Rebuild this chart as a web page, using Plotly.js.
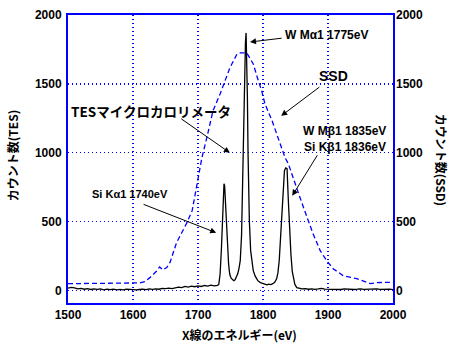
<!DOCTYPE html>
<html>
<head>
<meta charset="utf-8">
<script src="https://cdn.plot.ly/plotly-3.0.1.min.js"></script>
<style>html,body{margin:0;padding:0;background:#fff;}#chart{width:457px;height:350px;}</style>
</head>
<body>
<div id="chart"></div>
<script>
// TES microcalorimeter spectrum (black solid)
const tesEnergy = [1500,1505,1510,1515,1520,1525,1530,1535,1540,1545,1550,1555,1560,1565,1570,1575,1580,1585,1590,1595,1600,1605,1610,1615,1620,1625,1630,1635,1640,1645,1650,1655,1660,1665,1670,1675,1680,1685,1690,1695,1700,1705,1710,1715,1720,1725,1730,
  1732,1734,1736,1738,1739,1740,1741,1742,1743,1744,1745,1746,1747,1748,1749,1751,1753,1755,1757,1759,1761,1763,1765,1767,1768,1769,1770,1771,1772,1773,1774,1775,1776,1777,1778,1779,1781,1783,1785,1788,1792,1796,1800,1803,1806,1809,1812,1815,1818,1821,1823,1825,1827,1829,1831,1833,1835,1837,1839,1841,1843,1845,1847,1849,1852,1856,1860,
  1865,1870,1875,1880,1885,1890,1895,1900,1905,1910,1915,1920,1925,1930,1935,1940,1945,1950,1955,1960,1965,1970,1975,1980,1985,1990,1995,2000];
const tesCounts = [18,24,20,12,16,10,14,8,12,9,13,6,10,7,11,5,9,6,10,7,9,5,8,11,7,12,9,13,10,16,14,18,15,21,25,22,30,26,32,28,34,30,37,33,40,35,38,
  45,120,300,560,700,775,760,652,560,470,360,260,200,150,115,90,78,72,78,94,120,160,217,400,650,993,1300,1550,1717,1800,1870,1700,1400,993,700,507,290,200,145,105,72,58,50,45,42,47,44,50,60,85,130,220,380,529,760,870,890,885,652,413,260,140,80,45,22,16,12,
  14,10,13,9,12,16,11,10,13,9,11,8,12,9,11,8,10,13,9,11,8,10,12,9,11,8,10,7];

// SSD spectrum (blue dashed)
const ssdEnergy = [1500,1520,1540,1560,1580,1600,1610,1618,1626,1636,1641,1646,1652,1657,1667,1675,1683,1691,1695,1700,1706,1715,1723,1734,1742,1749,1760,1765,1775,1785,1792,1798,1803,1814,1821,1829,1834,1839,1846,1857,1868,1877,1888,1898,1908,1923,1944,1955,1965,1975,1985,2000];
const ssdCounts = [50,51,50,52,51,52,56,65,94,140,172,150,168,205,348,420,493,580,688,819,964,1138,1304,1427,1522,1616,1717,1725,1725,1645,1536,1449,1355,1232,1138,1036,964,920,819,674,529,413,290,217,159,109,87,70,51,58,60,60];

const yTicks = [0,500,1000,1500,2000];
const xTicks = [1500,1600,1700,1800,1900,2000];

const blue = '#0000ff';
const tickFont = {family:'Liberation Sans, Arial, sans-serif', size:12, color:'#000', weight:'bold'};
const jpFont = {family:'Noto Sans CJK JP, sans-serif', size:12, color:'#000', weight:'bold'};
const labFont = {family:'Liberation Sans, Arial, sans-serif', size:12, color:'#000', weight:'bold'};

const traces = [
  {x: ssdEnergy, y: ssdCounts, type:'scatter', mode:'lines', yaxis:'y2',
   line:{color:blue, width:1.3, dash:'5px,3px'}, hoverinfo:'skip'},
  {x: tesEnergy, y: tesCounts, type:'scatter', mode:'lines',
   line:{color:'#000', width:1.3}, hoverinfo:'skip'}
];

function arrow(tx, ty, hx, hy) {
  return {x:hx, y:hy, ax:tx, ay:ty, xref:'x', yref:'y', axref:'x', ayref:'y',
    text:'', showarrow:true, arrowhead:2, arrowsize:1.2, arrowwidth:1, arrowcolor:'#000'};
}
function label(t, x, y, font) {
  return {x:x, y:y, xref:'x', yref:'y', text:t, showarrow:false, font:font, xanchor:'center', yanchor:'middle'};
}

const annotations = [
  label('W Mα1 1775eV', 1898, 1855, labFont),
  arrow(1831, 1833, 1780, 1804),
  label('SSD', 1908, 1560, {family:'Liberation Sans, Arial, sans-serif', size:14, color:'#000', weight:'bold'}),
  arrow(1889, 1485, 1828, 1268),
  label('W Mβ1 1835eV', 1926, 1159, labFont),
  label('Si Kβ1 1836eV', 1926, 1043, labFont),
  arrow(1885, 993, 1845, 688),
  label('TESマイクロカロリメータ', 1628, 1304, {family:'Noto Sans CJK JP, sans-serif', size:13.5, color:'#000', weight:'bold'}),
  arrow(1672, 1254, 1749, 1000),
  label('Si Kα1 1740eV', 1595, 703, {family:'Liberation Sans, Arial, sans-serif', size:11, color:'#000', weight:'bold'}),
  arrow(1614, 630, 1728, 420),
  {xref:'paper', yref:'paper', x:-0.172, y:0.51, text:'カウント数(TES)', textangle:-90, showarrow:false, font:jpFont, xanchor:'center', yanchor:'middle'},
  {xref:'paper', yref:'paper', x:1.148, y:0.497, text:'カウント数(SSD)', textangle:90, showarrow:false, font:jpFont, xanchor:'center', yanchor:'middle'},
  {xref:'paper', yref:'paper', x:0.529, y:-0.111, text:'X線のエネルギー(eV)', showarrow:false, font:jpFont, xanchor:'center', yanchor:'middle'}
];

const layout = {
  width:457, height:350,
  margin:{l:68, r:64, t:15, b:47},
  paper_bgcolor:'#fff', plot_bgcolor:'#fff',
  showlegend:false,
  xaxis:{range:[1500,2000], tickvals:xTicks, ticktext:xTicks.map(String), ticks:'', tickfont:tickFont,
    showgrid:true, gridcolor:blue, griddash:'1px,3px', gridwidth:1.2, zeroline:false,
    showline:true, linecolor:blue, linewidth:2, mirror:true},
  yaxis:{range:[-90,2000], tickvals:yTicks, ticktext:yTicks.map(String), ticks:'', tickfont:tickFont,
    showgrid:true, gridcolor:blue, griddash:'1px,3px', gridwidth:1.2, zeroline:false,
    showline:true, linecolor:blue, linewidth:2, mirror:true, ticklabelstandoff:2},
  yaxis2:{range:[-90,2000], overlaying:'y', side:'right', tickvals:yTicks, ticktext:yTicks.map(String), ticks:'',
    tickfont:tickFont, showgrid:false, zeroline:false, showline:false, ticklabelstandoff:2},
  annotations: annotations
};

Plotly.newPlot('chart', traces, layout, {staticPlot:true, displayModeBar:false});
</script>
</body>
</html>
